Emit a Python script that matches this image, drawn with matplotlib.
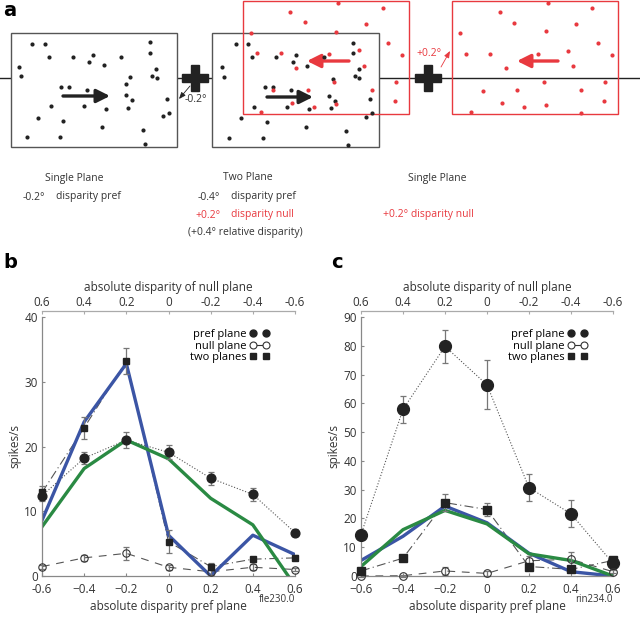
import matplotlib
matplotlib.use("Agg")
import matplotlib.pyplot as plt
from matplotlib.patches import Rectangle
from matplotlib.lines import Line2D

plt.rcParams['font.family'] = ['Open Sans', 'DejaVu Sans']

RED = '#e8393f'
DOT = '#222222'
BLUE = '#3b55a5'
GREEN = '#2a8a43'
GREY = '#777777'
AXC = '#888888'

# ---------------- panel a: stimulus sketches (pixel coordinates) ----------------
box1_x = [32, 45, 49, 73, 89, 93, 104, 121, 150, 150, 19, 21, 156, 152, 157, 61, 69, 87, 130, 126,
          126, 132, 128, 167, 169, 163, 51, 84, 106, 38, 63, 102, 143, 145, 27, 60]
box1_y = [44, 44, 57, 57, 62, 55, 65, 57, 42, 53, 67, 76, 69, 76, 78, 87, 87, 90, 77, 84,
          95, 100, 108, 99, 113, 116, 106, 106, 109, 118, 121, 127, 130, 144, 137, 137]

box2_black_x = [236, 248, 252, 276, 293, 296, 307, 222, 224, 265, 273, 291, 254, 287, 309, 241, 267, 306,
                229, 263, 324, 353, 353, 359, 355, 359, 333, 329, 335, 331, 370, 372, 366, 346, 348]
box2_black_y = [44, 44, 57, 57, 62, 55, 66, 67, 77, 87, 87, 90, 107, 107, 109, 118, 122, 127,
                138, 138, 57, 43, 53, 69, 76, 78, 79, 96, 101, 108, 99, 113, 117, 131, 145]

box2_red_x = [290, 305, 251, 257, 281, 296, 273, 308, 292, 261, 314, 338, 383, 366, 336, 388, 402,
              329, 359, 364, 334, 396, 372, 336, 395]
box2_red_y = [12, 22, 33, 53, 53, 68, 90, 90, 103, 112, 107, 3, 8, 24, 32, 43, 55,
              54, 50, 66, 82, 82, 90, 104, 101]

box3_x = [500, 548, 592, 514, 546, 576, 460, 598, 466, 490, 538, 568, 612, 506, 573, 483, 517,
          544, 581, 605, 502, 524, 546, 604, 471, 581]
box3_y = [12, 3, 8, 23, 31, 24, 33, 43, 54, 54, 54, 51, 55, 68, 66, 91, 90,
          82, 90, 82, 103, 107, 105, 101, 112, 113]

# ---------------- panels b, c: tuning data ----------------
disp_pref = [-0.6, -0.4, -0.2, 0, 0.2, 0.4, 0.6]
disp_null_labels = ['0.6', '0.4', '0.2', '0', '-0.2', '-0.4', '-0.6']

b_pref = [12.4, 18.2, 21.0, 19.1, 15.1, 12.6, 6.7]
b_pref_err = [0.8, 0.9, 1.3, 1.1, 1.0, 1.0, 0.5]
b_null = [1.45, 2.8, 3.5, 1.35, 0.65, 1.35, 1.0]
b_null_err = [0.3, 0.5, 1.0, 0.4, 0.5, 0.5, 0.3]
b_two = [12.9, 22.9, 33.2, 5.3, 1.45, 2.6, 2.8]
b_two_err = [1.0, 1.7, 2.0, 1.8, 0.6, 0.4, 0.4]
b_blue = [8.6, 23.8, 32.8, 6.3, 0.0, 6.3, 3.3]
b_green = [7.6, 16.6, 21.0, 18.1, 12.0, 7.9, -1.5]
b_xlabels = ['-0.6', '\u22120.4', '\u22120.2', '0', '0.2', '0.4', '0.6']

c_pref = [14.4, 57.9, 79.8, 66.4, 30.7, 21.6, 4.4]
c_pref_err = [1.0, 4.8, 5.8, 8.5, 4.7, 4.7, 1.0]
c_null = [0.0, 0.1, 1.75, 0.9, 5.3, 5.8, 1.5]
c_null_err = [0.3, 0.3, 1.5, 1.0, 1.5, 2.5, 0.5]
c_two = [1.75, 6.2, 25.5, 23.1, 3.3, 2.3, 5.4]
c_two_err = [0.8, 0.6, 3.0, 2.3, 0.8, 0.7, 1.0]
c_blue = [5.4, 13.8, 24.3, 18.5, 7.9, 1.5, 0.0]
c_green = [3.3, 16.1, 22.8, 18.1, 7.7, 5.4, 0.0]
c_xlabels = ['\u22120.6', '\u22120.4', '\u22120.2', '0', '0.2', '0.4', '0.6']


def arrow(ax, tail, head, color, lw=2.4, style='-|>,head_length=0.8,head_width=0.4', ms=10):
    ax.annotate('', xy=head, xytext=tail,
                arrowprops=dict(arrowstyle=style, lw=lw, color=color,
                                shrinkA=0, shrinkB=0, mutation_scale=ms))


def draw_panel(ax, pref, pref_err, null, null_err, two, two_err, blue, green,
               ymax, xlabels, cell_id, ms_pref, ms_null, ms_two):
    ax.plot(disp_pref, blue, color=BLUE, lw=2.4, zorder=2)
    ax.plot(disp_pref, green, color=GREEN, lw=2.4, zorder=2)

    ax.plot(disp_pref, pref, ls=':', color='#555555', lw=0.8, zorder=1, clip_on=False)
    ax.plot(disp_pref, null, color='#555555', lw=0.8, dashes=(7, 6), zorder=1, clip_on=False)
    ax.plot(disp_pref, two, color='#555555', lw=0.8, dashes=(8, 3, 1, 3), zorder=1, clip_on=False)

    for y, e in [(pref, pref_err), (null, null_err), (two, two_err)]:
        ax.errorbar(disp_pref, y, yerr=e, fmt='none', ecolor=GREY, elinewidth=0.9,
                    capsize=2, capthick=0.9, zorder=3, clip_on=False)

    ax.plot(disp_pref, pref, 'o', ms=ms_pref, color=DOT, ls='none', zorder=4, clip_on=False)
    ax.plot(disp_pref, null, 'o', ms=ms_null, mfc='none', mec='#333333', mew=0.8, ls='none',
            zorder=4, clip_on=False)
    ax.plot(disp_pref, two, 's', ms=ms_two, color=DOT, ls='none', zorder=4, clip_on=False)

    ax.set_xlim(-0.6, 0.6)
    ax.set_ylim(0, ymax)
    ax.set_xticks(disp_pref)
    ax.set_xticklabels(xlabels)
    ax.set_yticks(range(0, ymax + 1, 10))
    for s in ['top', 'right']:
        ax.spines[s].set_visible(False)
    for s in ['left', 'bottom']:
        ax.spines[s].set_color(AXC)
        ax.spines[s].set_linewidth(0.9)
    ax.tick_params(direction='in', length=2.5, width=0.8, color=AXC, labelsize=8.5,
                   labelcolor='#333333')
    ax.tick_params(axis='x', pad=5)
    ax.tick_params(axis='y', pad=3)
    ax.set_xlabel('absolute disparity pref plane', fontsize=8.5, color='#333333', labelpad=3)
    ax.set_ylabel('spikes/s', fontsize=8.5, color='#333333', labelpad=2)
    ax.text(1.0, -0.07, cell_id, transform=ax.transAxes, ha='right', va='top',
            fontsize=7, color='#333333')

    top = ax.twiny()
    top.set_xlim(0.6, -0.6)
    top.set_xticks([0.6, 0.4, 0.2, 0, -0.2, -0.4, -0.6])
    top.set_xticklabels(disp_null_labels)
    for s in ['bottom', 'left', 'right']:
        top.spines[s].set_visible(False)
    top.spines['top'].set_position(('outward', 4))
    top.spines['top'].set_color('#aaaaaa')
    top.spines['top'].set_linewidth(0.9)
    top.tick_params(direction='in', length=2.5, width=0.8, color='#aaaaaa', labelsize=8.5,
                    labelcolor='#333333', pad=2)
    top.set_xlabel('absolute disparity of null plane', fontsize=8.5, color='#333333', labelpad=3)

    handles = [
        Line2D([], [], marker='o', ls='none', color=DOT, ms=5),
        Line2D([], [], marker='o', mfc='white', mec='#333333', mew=0.8, color='#333333', lw=0.8, ms=5),
        Line2D([], [], marker='s', ls='none', color=DOT, ms=4.6),
    ]
    ax.legend(handles, ['pref plane', 'null plane', 'two planes'], numpoints=2,
              markerfirst=False, frameon=False, fontsize=8, handlelength=1.75,
              handletextpad=0.3, labelspacing=0.05, borderpad=0,
              loc='upper right', bbox_to_anchor=(0.92, 0.975))


fig = plt.figure(figsize=(6.4, 6.17), dpi=100)

axa = fig.add_axes([0, 0, 1, 1])
axa.set_xlim(0, 640)
axa.set_ylim(617, 0)
axa.axis('off')

axa.plot([0, 640], [78, 78], color='#222222', lw=1.0, zorder=1)
axa.add_patch(Rectangle((11, 33), 166, 114, fc='white', ec='#555555', lw=1.0, zorder=2))
axa.add_patch(Rectangle((212, 33), 167, 114, fc='white', ec='#555555', lw=1.0, zorder=2))
axa.add_patch(Rectangle((243, 1), 166, 113, fc='none', ec=RED, lw=1.0, zorder=4))
axa.add_patch(Rectangle((452, 1), 166, 113, fc='none', ec=RED, lw=1.0, zorder=4))

axa.scatter(box1_x, box1_y, s=9, color=DOT, zorder=5, lw=0)
axa.scatter(box2_black_x, box2_black_y, s=9, color=DOT, zorder=5, lw=0)
axa.scatter(box2_red_x, box2_red_y, s=9, color=RED, zorder=5, lw=0)
axa.scatter(box3_x, box3_y, s=9, color=RED, zorder=5, lw=0)

arrow(axa, (63, 96), (110, 96), '#222222')
arrow(axa, (267, 97), (313, 97), '#222222')
arrow(axa, (349, 61), (307, 61), RED)
arrow(axa, (558, 61), (517, 61), RED)

axa.plot([195, 428], [78, 78], 'P', ms=19, color='#222222', ls='none', zorder=6)
arrow(axa, (190, 86), (179, 99), '#222222', lw=0.6, style='-|>,head_length=0.5,head_width=0.2', ms=8)
arrow(axa, (441, 67), (450, 51), RED, lw=0.6, style='-|>,head_length=0.5,head_width=0.2', ms=8)
axa.text(185, 99, '-0.2\u00b0', fontsize=7.5, color='#333333', va='center', ha='left')
axa.text(416, 54, '+0.2\u00b0', fontsize=7.5, color=RED, va='center', ha='left')

fs = 7.5
axa.text(74, 178, 'Single Plane', fontsize=fs, color='#333333', ha='center', va='center')
axa.text(23, 197, '-0.2\u00b0', fontsize=fs, color='#333333', va='center')
axa.text(56, 197, 'disparity pref', fontsize=fs, color='#333333', va='center')
axa.text(248, 178, 'Two Plane', fontsize=fs, color='#333333', ha='center', va='center')
axa.text(198, 197, '-0.4\u00b0', fontsize=fs, color='#333333', va='center')
axa.text(231, 197, 'disparity pref', fontsize=fs, color='#333333', va='center')
axa.text(195, 215, '+0.2\u00b0', fontsize=fs, color=RED, va='center')
axa.text(231, 215, 'disparity null', fontsize=fs, color=RED, va='center')
axa.text(245, 233, '(+0.4\u00b0 relative disparity)', fontsize=fs, color='#333333',
         va='center', ha='center')
axa.text(437, 178, 'Single Plane', fontsize=fs, color='#333333', ha='center', va='center')
axa.text(428, 215, '+0.2\u00b0 disparity null', fontsize=fs, color=RED, va='center', ha='center')

axa.text(3, 10, 'a', fontsize=14, fontweight='bold', va='center', ha='left', family='DejaVu Sans')
axa.text(3, 262, 'b', fontsize=14, fontweight='bold', va='center', ha='left', family='DejaVu Sans')
axa.text(331, 262, 'c', fontsize=14, fontweight='bold', va='center', ha='left', family='DejaVu Sans')

axb = fig.add_axes([42 / 640, 41 / 617, 253 / 640, 259 / 617])
draw_panel(axb, b_pref, b_pref_err, b_null, b_null_err, b_two, b_two_err, b_blue, b_green,
           40, b_xlabels, 'fle230.0', 6.3, 5.3, 4.6)

axc = fig.add_axes([361 / 640, 41 / 617, 252 / 640, 259 / 617])
draw_panel(axc, c_pref, c_pref_err, c_null, c_null_err, c_two, c_two_err, c_blue, c_green,
           90, c_xlabels, 'rin234.0', 8.5, 5.5, 5.5)

fig.savefig('out.png', dpi=100)
